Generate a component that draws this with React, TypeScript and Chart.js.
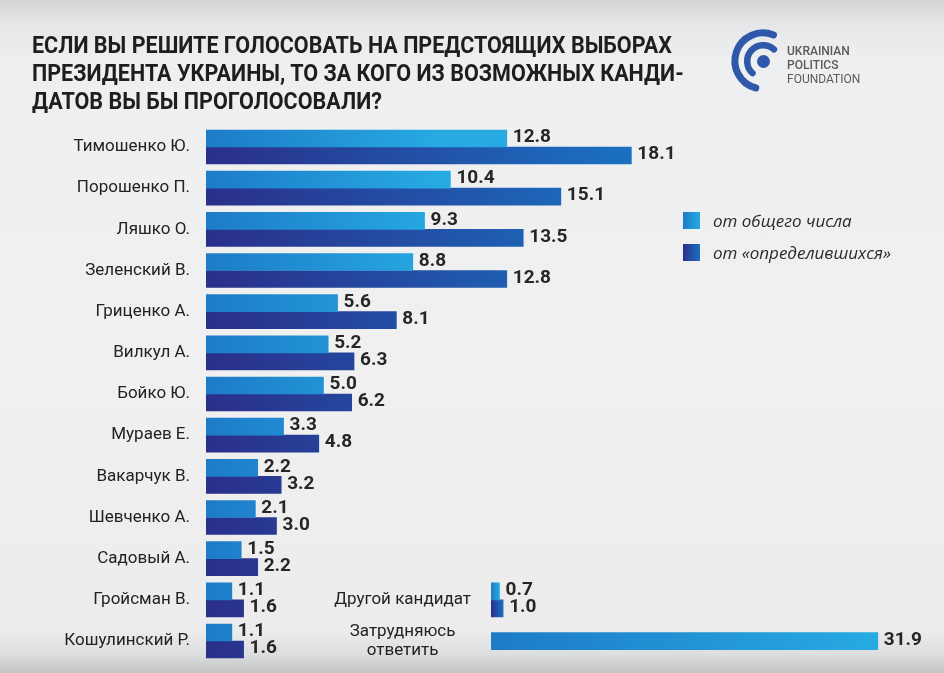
import React, { useEffect, useRef } from "react";
import { Chart, registerables } from "chart.js";

Chart.register(...registerables);

// ---- data ----
const categories = [
  "Тимошенко Ю.",
  "Порошенко П.",
  "Ляшко О.",
  "Зеленский В.",
  "Гриценко А.",
  "Вилкул А.",
  "Бойко Ю.",
  "Мураев Е.",
  "Вакарчук В.",
  "Шевченко А.",
  "Садовый А.",
  "Гройсман В.",
  "Кошулинский Р.",
];
const totalValues = [12.8, 10.4, 9.3, 8.8, 5.6, 5.2, 5.0, 3.3, 2.2, 2.1, 1.5, 1.1, 1.1];
const decidedValues = [18.1, 15.1, 13.5, 12.8, 8.1, 6.3, 6.2, 4.8, 3.2, 3.0, 2.2, 1.6, 1.6];

const otherCategories = [["Другой кандидат"], ["Затрудняюсь", "ответить"]];
const otherTotal = [0.7, 31.9];
const otherDecided = [1.0, null];

const seriesLabels = ["от общего числа", "от «определившихся»"];
const titleLines = [
  "ЕСЛИ ВЫ РЕШИТЕ ГОЛОСОВАТЬ НА ПРЕДСТОЯЩИХ ВЫБОРАХ",
  "ПРЕЗИДЕНТА УКРАИНЫ, ТО ЗА КОГО ИЗ ВОЗМОЖНЫХ КАНДИ-",
  "ДАТОВ ВЫ БЫ ПРОГОЛОСОВАЛИ?",
];
const logoLines = ["UKRAINIAN", "POLITICS", "FOUNDATION"];

// ---- styles ----
const LIGHT = ["#1d7bc8", "#27aae2"];
const DARK = ["#2a2f8a", "#1b6fc0"];

// gradient across a fixed span of the value axis (or the bar itself when span is null)
function gradientFor(colors: string[], spanValue: number | null) {
  return (ctx: any) => {
    const chart = ctx.chart;
    const x = chart.scales && chart.scales.x;
    if (!chart.chartArea || !x || ctx.raw == null) return colors[1];
    const x0 = x.getPixelForValue(0);
    const x1 = x.getPixelForValue(spanValue == null ? ctx.raw : spanValue);
    if (!isFinite(x0) || !isFinite(x1) || x1 - x0 < 1) return colors[0];
    const g = chart.ctx.createLinearGradient(x0, 0, x1, 0);
    g.addColorStop(0, colors[0]);
    g.addColorStop(1, colors[1]);
    return g;
  };
}

const valueLabels = {
  id: "valueLabels",
  afterDatasetsDraw(chart: any) {
    const c = chart.ctx;
    c.save();
    c.font = "bold 19px Roboto, 'DejaVu Sans', sans-serif";
    c.fillStyle = "#262626";
    c.textBaseline = "middle";
    c.textAlign = "left";
    chart.data.datasets.forEach((ds: any, i: number) => {
      const meta = chart.getDatasetMeta(i);
      meta.data.forEach((el: any, j: number) => {
        const v = ds.data[j];
        if (v == null) return;
        c.fillText(Number(v).toFixed(1), el.x + 6, el.y - 1);
      });
    });
    c.restore();
  },
};

const tickFont = { family: "Roboto, 'DejaVu Sans', sans-serif", size: 17, lineHeight: 1.15 };

function baseOptions(padding: any, max: number, crossAlign: string, tickPad: number) {
  return {
    indexAxis: "y",
    responsive: false,
    maintainAspectRatio: false,
    animation: false,
    layout: { padding },
    plugins: { legend: { display: false }, tooltip: { enabled: false } },
    scales: {
      x: { display: false, min: 0, max },
      y: {
        grid: { display: false, drawTicks: false },
        border: { display: false },
        afterFit: (s: any) => {
          s.width = 200;
          s.paddingTop = 0;
          s.paddingBottom = 0;
        },
        ticks: {
          color: "#222",
          font: tickFont,
          padding: tickPad,
          crossAlign,
          autoSkip: false,
        },
      },
    },
  } as any;
}

export default function App() {
  const mainRef = useRef<HTMLCanvasElement>(null);
  const otherRef = useRef<HTMLCanvasElement>(null);
  const titleRef = useRef<HTMLDivElement>(null);
  const firstLineRef = useRef<HTMLSpanElement>(null);

  useEffect(() => {
    // condense the title so its first line spans the same width as the original
    if (titleRef.current && firstLineRef.current) {
      const w = firstLineRef.current.getBoundingClientRect().width;
      if (w > 0) titleRef.current.style.transform = `scaleX(${640 / w})`;
    }

    const main = new Chart(mainRef.current as HTMLCanvasElement, {
      type: "bar",
      data: {
        labels: categories,
        datasets: [
          { label: seriesLabels[0], data: totalValues, backgroundColor: gradientFor(LIGHT, 10), barThickness: 17 },
          { label: seriesLabels[1], data: decidedValues, backgroundColor: gradientFor(DARK, 17.5), barThickness: 17 },
        ],
      },
      options: baseOptions({ left: 6, top: 126.4, bottom: 11.4, right: 33 }, 30, "near", 16),
      plugins: [valueLabels],
    } as any);

    const other = new Chart(otherRef.current as HTMLCanvasElement, {
      type: "bar",
      data: {
        labels: otherCategories,
        datasets: [
          { label: seriesLabels[0], data: otherTotal, backgroundColor: gradientFor(LIGHT, null), barThickness: 17, skipNull: true },
          { label: seriesLabels[1], data: otherDecided, backgroundColor: gradientFor(DARK, null), barThickness: 17, skipNull: true },
        ],
      },
      options: baseOptions({ left: 291, top: 579.4, bottom: 11.4, right: 65 }, 32, "center", 20),
      plugins: [valueLabels],
    } as any);

    return () => {
      main.destroy();
      other.destroy();
    };
  }, []);

  const bg =
    "linear-gradient(180deg, #d2d3d5 0px, #e5e6e7 22px, #eeeff0 60px, #f0f0f1 380px, #ececed 630px, #dcdddf 655px, #c2c3c5 673px)";

  const legendItems = [
    { text: seriesLabels[0], colors: LIGHT, top: 212 },
    { text: seriesLabels[1], colors: DARK, top: 244 },
  ];

  return (
    <div style={{ position: "relative", width: 944, height: 673, overflow: "hidden", background: bg }}>
      <style>{"body{margin:0}"}</style>
      <canvas ref={mainRef} width={944} height={673} style={{ position: "absolute", left: 0, top: 0 }} />
      <canvas ref={otherRef} width={944} height={673} style={{ position: "absolute", left: 0, top: 0 }} />

      <div
        ref={titleRef}
        style={{
          position: "absolute",
          left: 32,
          top: 31,
          fontFamily: "Roboto, 'DejaVu Sans Condensed', sans-serif",
          fontWeight: 700,
          fontSize: 24,
          lineHeight: "28px",
          color: "#1e1e1e",
          whiteSpace: "nowrap",
          transformOrigin: "0 0",
        }}
      >
        {titleLines.map((l, i) => (
          <div key={i}>
            <span ref={i === 0 ? firstLineRef : undefined}>{l}</span>
          </div>
        ))}
      </div>

      <svg width={944} height={120} style={{ position: "absolute", left: 0, top: 0 }}>
        <path
          d="M 773.5 35 A 28 28 0 1 0 755.8 88"
          fill="none"
          stroke="#2f57aa"
          strokeWidth={7}
          strokeLinecap="round"
        />
        <path
          d="M 773.9 49.3 A 16 16 0 1 0 752.5 73.1"
          fill="none"
          stroke="#2f57aa"
          strokeWidth={6.5}
          strokeLinecap="round"
        />
        <circle cx={763.5} cy={61.5} r={6.5} fill="#2f57aa" />
        {logoLines.map((t, i) => (
          <text
            key={i}
            x={787}
            y={55 + i * 14}
            fill="#5a5a5a"
            fontFamily="Roboto, 'DejaVu Sans', sans-serif"
            fontSize={12}
            fontWeight={i < 2 ? 500 : 400}
          >
            {t}
          </text>
        ))}
      </svg>

      {legendItems.map((it, i) => (
        <div key={i}>
          <div
            style={{
              position: "absolute",
              left: 683,
              top: it.top,
              width: 17,
              height: 17,
              background: `linear-gradient(90deg, ${it.colors[0]}, ${it.colors[1]})`,
            }}
          />
          <div
            style={{
              position: "absolute",
              left: 713,
              top: it.top - 3,
              fontFamily: "'Open Sans', sans-serif",
              fontStyle: "italic",
              fontSize: 17,
              lineHeight: "23px",
              color: "#2a2a2a",
              whiteSpace: "nowrap",
            }}
          >
            {it.text}
          </div>
        </div>
      ))}
    </div>
  );
}
